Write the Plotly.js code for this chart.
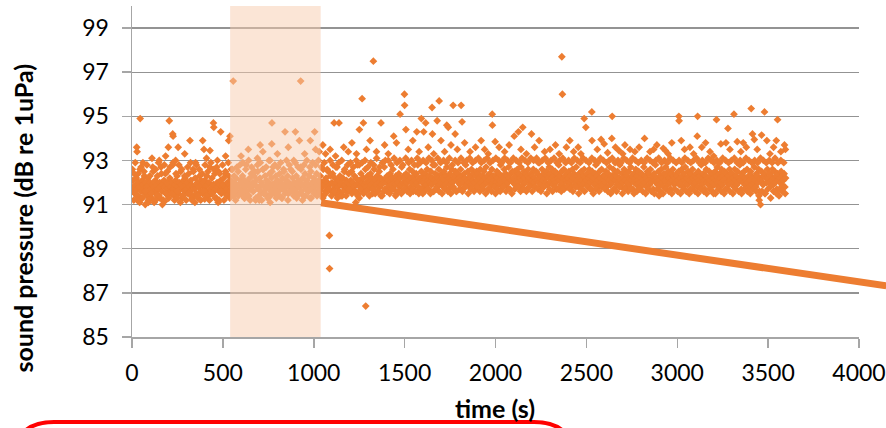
<!DOCTYPE html>
<html>
<head>
<meta charset="utf-8">
<script src="https://cdn.plot.ly/plotly-3.0.1.min.js"></script>
<style>
html,body{margin:0;padding:0;background:#ffffff;}
#chart{width:886px;height:428px;}
</style>
</head>
<body>
<div id="chart"></div>
<script>
// ---- data ----
const sampleStart = 0;      // s
const sampleStep = 4;       // s between readings of the dense band
const levels = [
91.6,92.1,91.8,92.4,91.5,91.9,92.2,91.7,91.4,92.0,91.8,92.6,91.6,91.3,92.1,91.9,91.7,92.3,91.5,92.0,91.8,91.4,92.2,91.9,91.6,
92.0,91.7,91.3,91.9,92.5,91.8,91.6,92.1,91.5,91.9,92.3,91.7,91.4,92.0,91.8,92.7,91.6,91.9,91.2,92.1,91.8,92.4,91.5,91.7,92.0,
91.9,91.5,92.2,91.8,91.6,92.0,92.8,91.7,91.4,91.9,92.1,91.6,92.3,91.8,91.5,92.0,91.7,92.5,91.9,91.3,91.8,92.1,91.6,92.2,91.9,
91.7,92.0,91.5,92.4,91.8,91.6,92.1,91.9,91.4,92.6,91.8,91.7,92.2,91.5,91.9,92.0,91.3,91.8,92.3,91.6,92.1,91.9,91.5,92.0,91.7,
92.1,91.8,91.6,92.3,91.9,91.4,92.0,92.7,91.7,91.5,92.2,91.8,91.9,91.6,92.4,91.7,91.3,92.0,91.8,92.5,91.6,91.9,92.1,91.5,91.8,
91.9,92.2,91.6,91.8,92.4,91.7,92.0,91.5,92.3,91.9,91.6,92.1,91.8,92.6,91.7,91.4,92.0,91.9,92.2,91.6,91.8,92.5,91.9,91.5,92.1,
92.0,91.7,92.3,91.9,91.5,92.1,91.8,92.8,91.6,92.0,91.9,91.4,92.2,91.7,92.4,91.8,92.0,91.6,92.3,91.9,91.2,92.1,91.8,92.5,91.7,
91.8,92.2,91.6,92.0,91.9,92.6,91.5,91.8,92.3,91.7,92.1,91.9,91.4,92.0,92.4,91.8,91.6,92.2,91.9,92.7,91.7,91.5,92.0,92.3,91.8,
92.1,91.9,91.6,92.4,91.8,92.0,91.3,92.2,91.7,92.5,91.9,91.6,92.1,91.8,92.3,91.5,92.0,91.9,92.6,91.7,91.8,92.2,91.6,92.0,91.9,
91.7,92.3,91.9,91.5,92.1,91.8,92.0,92.7,91.6,91.9,92.2,91.4,91.8,92.4,92.0,91.7,92.1,91.9,91.6,92.3,91.8,92.5,91.7,92.0,91.9,
92.2,91.8,92.0,91.6,92.4,91.9,91.5,92.1,91.7,92.3,92.0,91.4,91.8,92.6,91.9,92.1,91.6,92.2,91.8,92.0,92.5,91.7,91.9,92.3,91.6,
92.0,92.4,91.7,91.9,92.2,91.5,92.0,92.7,91.8,92.1,91.6,92.3,91.9,92.0,91.4,92.2,91.8,92.5,91.9,91.7,92.1,92.0,91.6,92.4,91.8,
91.9,92.1,92.5,91.7,92.0,91.8,92.3,91.6,92.2,91.9,92.8,91.5,92.0,92.1,91.8,92.4,91.7,92.0,92.2,91.6,91.9,92.6,92.0,91.8,92.3,
92.1,91.7,92.0,92.4,91.9,92.2,91.5,92.0,92.6,91.8,92.1,91.9,92.3,91.6,92.0,92.5,91.8,92.2,91.9,91.4,92.1,92.0,92.7,91.7,92.2,
92.0,92.3,91.8,92.1,91.6,92.4,92.0,91.9,92.2,92.6,91.7,92.0,91.9,92.3,91.5,92.1,92.0,92.4,91.8,92.2,91.9,92.7,91.6,92.0,92.3,
92.2,91.9,92.4,92.0,91.7,92.3,92.1,92.6,91.8,92.2,92.0,92.5,91.6,92.3,92.1,91.9,92.4,92.0,92.8,91.8,92.2,92.1,91.7,92.5,92.0,
92.3,92.0,91.8,92.4,92.2,91.9,92.6,92.1,91.7,92.3,92.0,92.5,91.9,92.2,92.8,91.6,92.1,92.4,92.0,91.8,92.3,92.2,92.6,91.9,92.1,
92.0,92.4,92.2,91.8,92.5,92.1,91.9,92.3,92.7,92.0,91.7,92.2,92.4,91.9,92.1,92.6,92.0,91.8,92.3,92.2,92.5,91.6,92.1,92.4,92.0,
92.2,91.9,92.6,92.1,92.3,91.7,92.0,92.4,92.2,92.8,91.9,92.1,92.5,92.0,91.8,92.3,92.2,92.6,91.9,92.1,92.4,92.0,91.7,92.3,92.5,
92.1,92.4,91.9,92.2,92.6,92.0,91.8,92.3,92.1,92.5,91.9,92.2,92.7,92.0,92.3,91.7,92.1,92.4,92.2,91.9,92.6,92.0,92.3,92.1,91.8,
92.3,92.0,92.5,92.2,91.9,92.4,92.1,92.8,92.0,92.3,91.8,92.2,92.6,92.1,92.4,91.9,92.3,92.0,92.7,92.2,91.7,92.4,92.1,92.5,92.0,
92.2,92.5,91.9,92.3,92.1,92.6,92.0,92.4,91.8,92.2,92.7,92.1,92.3,91.9,92.5,92.2,92.0,92.4,91.7,92.3,92.6,92.1,92.2,91.9,92.4,
92.1,92.3,92.6,92.0,92.2,91.8,92.5,92.1,92.4,92.9,92.0,92.2,91.9,92.3,92.6,92.1,91.8,92.4,92.2,92.0,92.5,92.3,91.9,92.2,92.7,
92.4,92.0,92.2,92.6,91.9,92.3,92.1,92.5,92.0,91.7,92.4,92.2,92.8,92.1,92.3,91.9,92.5,92.0,92.2,92.6,91.8,92.3,92.1,92.4,92.0,
92.2,92.5,92.0,92.3,91.8,92.1,92.6,92.2,92.4,91.9,92.0,92.7,92.3,92.1,91.8,92.4,92.2,92.0,92.5,92.1,91.9,92.3,92.6,92.0,92.2,
92.1,92.4,91.9,92.2,92.6,92.0,92.3,91.7,92.5,92.1,92.2,91.9,92.4,92.8,92.0,92.3,92.1,91.8,92.5,92.2,92.0,92.6,91.9,92.3,92.1,
92.3,92.0,92.5,91.8,92.2,92.4,92.1,92.7,91.9,92.3,92.0,92.2,92.6,91.7,92.4,92.1,92.3,91.9,92.5,92.0,92.2,92.8,92.1,91.8,92.4,
92.0,92.2,92.6,92.1,91.8,92.4,92.3,92.0,92.5,91.9,92.2,92.7,92.1,92.3,91.7,92.4,92.0,92.2,92.6,91.9,92.3,92.1,92.5,92.0,91.8,
92.2,92.4,91.9,92.1,92.7,92.0,92.3,92.2,91.8,92.5,92.1,92.4,91.9,92.6,92.0,92.2,92.3,91.7,92.4,92.1,92.8,92.0,92.2,91.9,92.5,
92.1,91.9,92.3,92.6,92.0,92.2,91.8,92.4,92.1,92.7,92.0,92.3,91.9,92.5,92.2,92.0,91.7,92.4,92.1,92.6,92.3,91.9,92.2,92.0,92.4,
92.3,92.1,92.5,91.9,92.2,92.0,92.6,92.3,91.8,92.4,92.1,92.7,92.0,92.2,91.9,92.5,92.3,92.1,91.7,92.4,92.0,92.6,92.2,91.9,92.3,
92.0,92.4,92.2,91.8,92.5,92.1,92.3,92.0,92.8,91.9,92.2,92.4,92.1,91.7,92.3,92.6,92.0,92.2,91.9,92.5,92.1,92.3,91.8,92.4,92.0,
92.2,91.9,92.5,92.1,92.3,92.7,92.0,91.8,92.4,92.2,92.0,92.6,91.9,92.3,92.1,92.5,91.7,92.2,92.4,92.0,92.3,91.9,92.6,92.1,92.2,
92.4,92.0,92.2,91.8,92.6,92.1,92.3,91.9,92.5,92.0,92.2,92.8,92.1,91.7,92.4,92.3,92.0,92.5,91.9,92.2,92.1,92.6,92.0,92.3,91.8,
92.1,92.5,92.3,91.9,92.2,92.0,92.7,92.1,91.8,92.4,92.3,92.0,92.6,91.6,92.2,92.1,92.5,92.0,91.9,92.3,92.4,91.5,92.2,92.0,92.6,
92.2,92.0,92.4,91.8,92.3,92.1,92.6,91.9,92.2,92.5,92.0,92.3,91.7,92.4,92.1,91.4,92.2,92.0,92.5,91.9,92.3,92.1,92.4,91.8,92.2
];
// second, interleaved set of readings that fills the upper and lower edges of the band
const sampleStartB = 2;     // s
const sampleStepB = 8;      // s
const levelsB = [
92.6,91.2,92.9,91.4,92.4,91.1,92.7,91.3,92.5,91.6,92.8,91.2,92.3,91.5,92.7,91.1,92.6,91.4,92.9,91.3,92.4,91.2,92.8,91.5,92.5,
91.3,92.7,91.5,92.9,91.2,92.4,91.6,92.8,91.1,92.6,91.4,92.3,91.2,92.7,91.5,92.9,91.3,92.5,91.1,92.8,91.4,92.6,91.2,92.4,91.6,
92.8,91.4,92.5,91.2,92.9,91.5,92.6,91.3,92.7,91.1,92.4,91.6,92.8,91.2,92.5,91.4,92.9,91.3,92.6,91.5,92.3,91.2,92.7,91.4,92.8,
91.5,92.9,91.3,92.6,91.4,93.0,91.2,92.7,91.6,92.5,91.3,92.8,91.4,92.9,91.2,92.6,91.5,92.7,91.3,93.0,91.4,92.5,91.6,92.8,91.3,
92.7,91.4,92.9,91.3,92.6,91.5,93.0,91.2,92.8,91.6,92.5,91.4,92.9,91.3,92.7,91.5,92.6,91.2,92.8,91.4,93.0,91.6,92.7,91.3,92.9,
91.5,92.8,91.4,93.0,91.6,92.7,91.3,92.9,91.5,92.6,91.7,93.0,91.4,92.8,91.6,92.7,91.3,92.9,91.5,93.0,91.6,92.6,91.4,92.8,91.7,
92.9,91.5,92.7,91.6,93.0,91.4,92.8,91.7,92.9,91.5,93.0,91.6,92.7,91.4,92.9,91.7,92.8,91.5,93.1,91.6,92.7,91.4,92.9,91.6,93.0,
91.6,93.0,91.5,92.8,91.7,93.1,91.4,92.9,91.6,93.0,91.5,92.8,91.7,93.1,91.6,92.9,91.5,93.0,91.7,92.8,91.6,93.1,91.5,92.9,91.7,
93.0,91.6,92.9,91.7,93.1,91.5,93.0,91.6,92.8,91.7,93.1,91.6,92.9,91.5,93.0,91.7,92.9,91.6,93.1,91.5,92.8,91.7,93.0,91.6,92.9,
91.7,93.1,91.6,92.9,91.8,93.0,91.5,93.1,91.7,92.9,91.6,93.0,91.8,93.1,91.6,92.9,91.7,93.0,91.5,93.1,91.7,92.9,91.6,93.0,91.8,
93.1,91.7,93.0,91.6,92.9,91.8,93.1,91.6,93.0,91.7,92.9,91.5,93.1,91.7,93.0,91.8,92.9,91.6,93.1,91.7,93.0,91.6,92.9,91.8,93.1,
91.6,93.0,91.8,93.1,91.7,92.9,91.6,93.0,91.8,93.1,91.5,92.9,91.7,93.0,91.6,93.1,91.8,92.9,91.7,93.0,91.6,93.1,91.7,92.9,91.8,
93.0,91.7,92.9,91.6,93.1,91.8,93.0,91.5,92.9,91.7,93.1,91.6,93.0,91.8,92.9,91.7,93.1,91.5,93.0,91.7,92.9,91.6,93.1,91.8,93.0,
91.7,92.9,91.6,93.0,91.5,93.1,91.7,92.9,91.6,93.0,91.8,92.9,91.5,93.1,91.7,93.0,91.6,92.9,91.7,93.1,91.5,93.0,91.6,92.9,91.7,
93.0,91.6,92.9,91.5,93.1,91.7,93.0,91.6,92.9,91.5,93.0,91.7,93.1,91.6,92.9,91.5,93.0,91.7,92.9,91.6,93.1,91.5,93.0,91.7,92.9,
91.6,93.0,91.5,92.9,91.7,93.1,91.6,93.0,91.5,92.9,91.7,93.0,91.6,93.1,91.5,92.9,91.7,93.0,91.6,92.9,91.5,93.1,91.7,93.0,91.6,
92.9,91.5,93.0,91.7,92.9,91.6,93.1,91.5,93.0,91.7,92.9,91.6,93.0,91.5,93.1,91.7,92.9,91.6,93.0,91.5,92.9,91.7,93.1,91.6,93.0,
91.5,92.9,91.7,93.0,91.6,92.9,91.4,93.1,91.6,93.0,91.5,92.9,91.7,93.0,91.3,92.9,91.6,93.1,91.5,92.9,91.7,93.0,91.6,92.9,91.5
];
// individual readings outside the dense band: [time s, level dB]
const extraPoints = [
[26,93.6],[28,93.4],[45,94.9],[200,93.6],[205,94.8],[224,94.2],[226,94.1],[254,93.6],[319,93.9],[389,93.9],[396,93.5],[429,93.45],
[448,94.7],[450,94.5],[488,94.3],[532,93.9],[539,94.1],[557,96.6],[705,93.7],[769,93.75],[770,94.7],[842,94.3],[899,94.3],[921,93.9],
[928,96.6],[981,93.9],[1005,94.3],[1112,94.7],[1139,94.7],[1251,94.4],[1266,95.8],[1273,94.7],[1328,97.5],[1370,94.7],[1440,94.1],
[1475,95.1],[1499,96.0],[1500,95.5],[1507,94.4],[1567,94.3],[1592,94.9],[1605,94.3],[1616,94.7],[1651,95.4],[1653,94.2],[1679,94.8],
[1690,95.7],[1732,94.6],[1740,94.5],[1767,95.5],[1778,94.2],[1811,95.5],[1816,94.75],[1921,93.9],[1982,95.1],[1983,94.6],[1998,93.85],
[2103,94.1],[2126,94.3],[2150,94.5],[2198,94.2],[2365,97.7],[2368,96.0],[2409,93.9],[2488,94.9],[2497,94.5],[2530,95.2],[2531,93.9],
[2581,93.95],[2598,93.75],[2617,93.35],[2640,94.0],[2642,95.0],[2679,93.45],[2712,93.7],[2767,93.4],[2820,94.0],[2888,93.7],[2923,93.55],
[2935,93.45],[2970,93.8],[3009,95.0],[3010,94.8],[3022,93.9],[3070,93.6],[3110,94.1],[3112,95.0],[3156,93.8],[3216,94.85],[3240,93.75],
[3268,93.8],[3279,94.45],[3312,95.1],[3330,93.85],[3363,93.8],[3407,95.35],[3414,94.2],[3424,93.95],[3464,94.15],[3480,95.2],[3493,93.9],
[3545,93.9],[3552,94.85],[3590,93.7],
[1050,93.7],[1065,93.3],[1090,93.5],[1120,93.2],[1165,93.6],[1190,93.4],[1210,93.8],[1235,93.3],[1290,93.5],[1310,93.9],[1345,93.4],
[1390,93.7],[1410,93.3],[1455,93.8],[1520,93.5],[1545,93.9],[1580,93.4],[1630,93.6],[1660,93.3],[1700,93.9],[1720,93.4],[1755,93.7],
[1790,93.5],[1830,93.8],[1860,93.4],[1890,93.6],[1940,93.5],[1960,93.3],[2020,93.6],[2050,93.4],[2075,93.7],[2140,93.5],[2170,93.3],
[2215,93.6],[2240,93.9],[2270,93.4],[2300,93.5],[2330,93.7],[2350,93.3],[2390,93.6],[2430,93.4],[2455,93.6],[2470,93.3],[2560,93.5],
[2660,93.6],[2700,93.3],[2740,93.5],[2790,93.6],[2850,93.4],[2870,93.5],[2950,93.3],[3040,93.5],[3090,93.3],[3135,93.6],[3180,93.4],
[3200,93.2],[3290,93.5],[3350,93.4],[3380,93.6],[3440,93.5],[3510,93.3],[3530,93.6],[3570,93.4],[3595,93.5],
[60,92.9],[110,93.1],[150,93.0],[185,93.2],[240,93.0],[290,93.3],[350,92.9],[410,93.1],[470,93.0],[515,93.2],[600,93.2],[640,93.5],
[690,93.1],[720,93.4],[760,93.0],[800,93.3],[860,93.6],[890,93.0],[950,93.3],[1010,93.5],[1030,93.4],
[73,91.0],[167,91.0],[1086,89.6],[1087,88.1],[1286,86.4],[1231,91.1],[3451,91.2],[3458,91.0],[30,91.2],[90,91.1],[130,91.2],[180,91.15],
[250,91.3],[330,91.2],[400,91.25],[480,91.2],[620,91.3],[700,91.2],[760,91.1],[980,91.3],[1150,91.4],[1250,91.3],[1600,91.5],[2000,91.5],
[2900,91.4],[3200,91.5]
];
const shadeStart = 540, shadeEnd = 1038;          // highlighted time window (s)
const trendTime = [1040, 4150];                    // drawn line
const trendLevel = [91.08, 87.32];
const xTicks = [0,500,1000,1500,2000,2500,3000,3500,4000];
const yTicks = [85,87,89,91,93,95,97,99];
const xRange = [0, 4000], yRange = [85, 100];

// ---- build ----
const timesA = levels.map((_, i) => sampleStart + i * sampleStep);
const timesB = levelsB.map((_, i) => sampleStartB + i * sampleStepB);
const allX = timesA.concat(timesB, extraPoints.map(p => p[0]));
const allY = levels.concat(levelsB, extraPoints.map(p => p[1]));

const W = 886, H = 428, M = {l:132, r:27, t:6, b:91};
const pw = W - M.l - M.r, ph = H - M.t - M.b;
const toPx = (px) => (px - M.l) / pw;     // pixel -> paper
const toPy = (py) => (H - M.b - py) / ph;
const dx = (t) => (t - xRange[0]) / (xRange[1] - xRange[0]);
const dy = (v) => (v - yRange[0]) / (yRange[1] - yRange[0]);

// rounded red frame at the bottom (only its top is in view)
const L = 14, R = 574, T = 422, rad = 40, B = 470;
const boxPath = `M ${toPx(L)},${toPy(B)} L ${toPx(L)},${toPy(T+rad)} Q ${toPx(L)},${toPy(T)} ${toPx(L+rad)},${toPy(T)} ` +
  `L ${toPx(R-rad)},${toPy(T)} Q ${toPx(R)},${toPy(T)} ${toPx(R)},${toPy(T+rad)} L ${toPx(R)},${toPy(B)}`;

const FONT = 'Lato, "Open Sans", sans-serif';
const data = [{
  type: 'scatter', mode: 'markers', x: allX, y: allY,
  marker: {symbol: 'diamond', size: 6, color: '#ED7D31', line: {width: 0}},
  hoverinfo: 'skip', showlegend: false
}];

const axisCommon = {
  showline: true, linecolor: '#a6a6a6', linewidth: 1.5,
  ticks: 'outside', ticklen: 9, tickcolor: '#a6a6a6', tickwidth: 1.5,
  tickfont: {family: FONT, size: 23, color: '#000'},
  zeroline: false, fixedrange: true, tickmode: 'array'
};

const layout = {
  width: W, height: H, margin: M,
  paper_bgcolor: '#fff', plot_bgcolor: '#fff',
  showlegend: false,
  xaxis: Object.assign({}, axisCommon, {range: xRange, tickvals: xTicks, ticktext: xTicks.map(String), showgrid: false, ticklabelstandoff: 6}),
  yaxis: Object.assign({}, axisCommon, {range: yRange, tickvals: yTicks, ticktext: yTicks.map(String), showgrid: true, gridcolor: '#939393', gridwidth: 1.3, ticklabelstandoff: 8}),
  shapes: [
    {type: 'rect', xref: 'x', yref: 'paper', x0: shadeStart, x1: shadeEnd, y0: 0, y1: 1,
     fillcolor: 'rgba(248,203,173,0.5)', line: {width: 0}, layer: 'above'},
    {type: 'line', xref: 'paper', yref: 'paper', x0: dx(trendTime[0]), y0: dy(trendLevel[0]), x1: dx(trendTime[1]), y1: dy(trendLevel[1]),
     line: {color: '#ED7D31', width: 7}, layer: 'above'},
    {type: 'path', xref: 'paper', yref: 'paper', path: boxPath, fillcolor: '#ffffff',
     line: {color: '#ff0000', width: 4}, layer: 'above'}
  ],
  annotations: [
    {text: '<b>sound pressure (dB re 1uPa)</b>', xref: 'paper', yref: 'paper', x: toPx(22), y: toPy(218.5),
     xanchor: 'center', yanchor: 'middle', textangle: -90, showarrow: false, font: {family: FONT, size: 25, color: '#000'}},
    {text: '<b>time (s)</b>', xref: 'paper', yref: 'paper', x: toPx(495), y: toPy(408),
     xanchor: 'center', yanchor: 'middle', showarrow: false, font: {family: FONT, size: 25, color: '#000'}}
  ]
};

Plotly.newPlot('chart', data, layout, {displayModeBar: false, staticPlot: true});
</script>
</body>
</html>
